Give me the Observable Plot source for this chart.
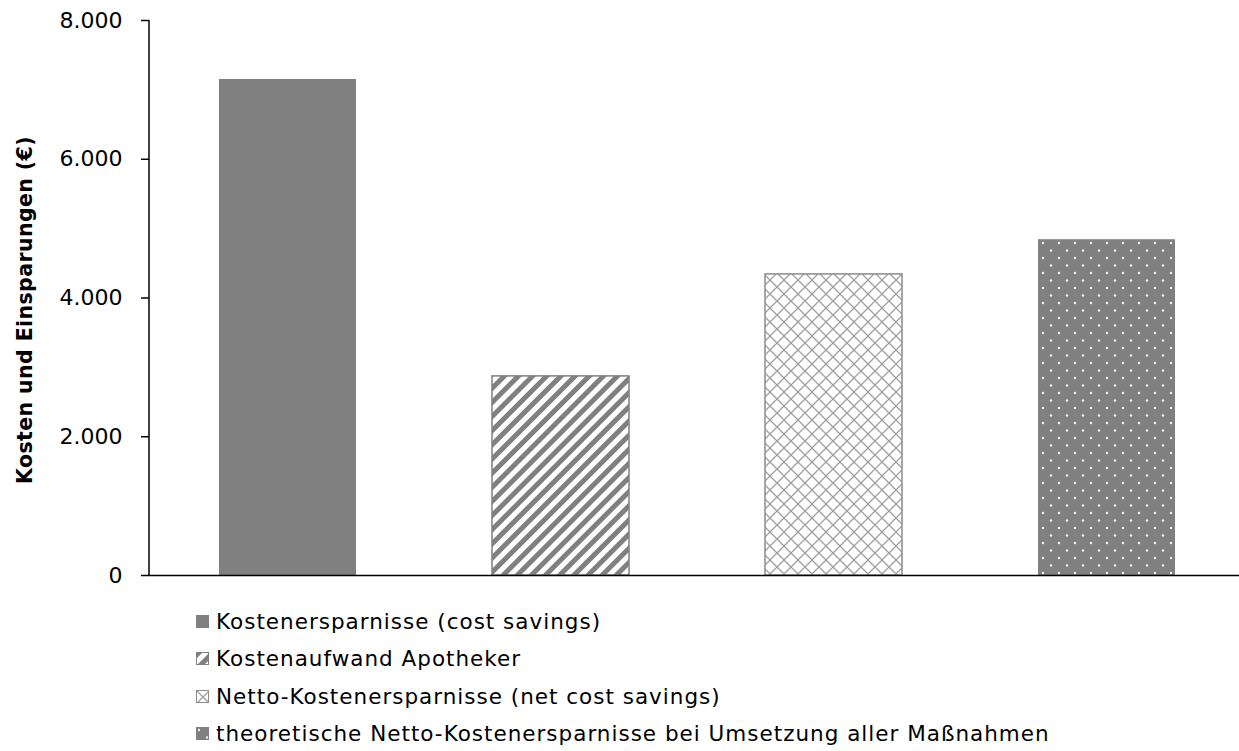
<!DOCTYPE html>
<html><head><meta charset="utf-8">
<script src="https://cdn.jsdelivr.net/npm/d3@7"></script>
<script src="https://cdn.jsdelivr.net/npm/@observablehq/plot@0.6"></script>
<style>
body{margin:0;background:#fff;font-family:"DejaVu Sans",Verdana,sans-serif;}
#defs{position:absolute;left:0;top:0;width:0;height:0;}
#chart svg{display:block}
g[aria-label="y-axis label"] text{font-weight:bold;font-size:20.5px !important;letter-spacing:0.4px;}
.legend{padding-left:196px}
.legend .row{height:37.3px;display:flex;align-items:center;font-size:21.5px;letter-spacing:1px;color:#000;white-space:nowrap}
.legend .row svg{margin-right:7px;flex:none}
</style></head><body>
<svg id="defs" width="0" height="0">
  <defs>
    <pattern id="stripes" patternUnits="userSpaceOnUse" width="10" height="10" patternTransform="rotate(45)">
      <rect width="10" height="10" fill="#fff"/>
      <rect width="5" height="10" fill="#808080"/>
    </pattern>
    <pattern id="hatch" patternUnits="userSpaceOnUse" width="14" height="14">
      <rect width="14" height="14" fill="#fff"/>
      <path d="M-2,-2L16,16M16,-2L-2,16" stroke="#a0a0a0" stroke-width="1.3" fill="none"/>
    </pattern>
    <pattern id="dots" patternUnits="userSpaceOnUse" width="16" height="15">
      <rect width="16" height="15" fill="#808080"/>
      <circle cx="3" cy="3" r="1.2" fill="#f0f0f0"/>
      <circle cx="11" cy="10.5" r="1.2" fill="#f0f0f0"/>
    </pattern>
  </defs>
</svg>
<div id="chart"></div>
<div class="legend" id="legend"></div>
<script>
const categories = [
  "Kostenersparnisse (cost savings)",
  "Kostenaufwand Apotheker",
  "Netto-Kostenersparnisse (net cost savings)",
  "theoretische Netto-Kostenersparnisse bei Umsetzung aller Maßnahmen"
];
const values = [7150, 2870, 4340, 4840];
const yTicks = [0, 2000, 4000, 6000, 8000];
const yLabel = "Kosten und Einsparungen (€)";

const fillList = ["#808080", "url(#stripes)", "url(#hatch)", "url(#dots)"];
const strokeList = ["none", "#808080", "#8c8c8c", "none"];
const fillOf = new Map(categories.map((c, i) => [c, fillList[i]]));
const strokeOf = new Map(categories.map((c, i) => [c, strokeList[i]]));

const data = categories.map((c, i) => ({category: c, value: values[i]}));
const fmt = d3.formatLocale({decimal: ",", thousands: ".", grouping: [3], currency: ["", "€"]}).format(",");

const plot = Plot.plot({
  width: 1239, height: 603,
  marginLeft: 149, marginRight: 0, marginTop: 20, marginBottom: 28,
  style: {fontFamily: "DejaVu Sans, Verdana, sans-serif", fontSize: "22px", color: "#000", background: "#fff", overflow: "visible"},
  x: {domain: categories, range: [151, 1243], paddingInner: 0.5, paddingOuter: 0.25, axis: null},
  y: {domain: [0, 8000]},
  color: {type: "identity"},
  marks: [
    Plot.barY(data, {x: "category", y: "value", fill: d => fillOf.get(d.category), stroke: d => strokeOf.get(d.category), strokeWidth: 1.5}),
    Plot.axisY({ticks: yTicks, tickFormat: fmt, tickSize: 8, tickPadding: 19, strokeWidth: 1.5, fontSize: 22,
      label: yLabel, labelAnchor: "center", labelArrow: "none", labelOffset: 132}),
    Plot.ruleY([0], {stroke: "#000", strokeWidth: 1.5})
  ]
});
document.getElementById("chart").appendChild(plot);

// nudge axis title along the axis
d3.select(plot).selectAll('g[aria-label="y-axis label"] text').attr("dx", -12);

// y-axis line drawn using the plot's y scale
const ys = plot.scale("y");
d3.select(plot).append("line")
  .attr("x1", 149).attr("x2", 149)
  .attr("y1", ys.apply(8000)).attr("y2", ys.apply(0))
  .attr("stroke", "#000").attr("stroke-width", 1.5);

// legend
const legend = d3.select("#legend");
categories.forEach((c, i) => {
  const row = legend.append("div").attr("class", "row");
  const sw = row.append("svg").attr("width", 13).attr("height", 13);
  sw.append("rect").attr("x", 0.5).attr("y", 0.5).attr("width", 12).attr("height", 12)
    .attr("fill", fillList[i]).attr("stroke", strokeList[i] === "none" ? fillList[i] : strokeList[i]);
  row.append("span").text(c);
});
</script>
</body></html>
